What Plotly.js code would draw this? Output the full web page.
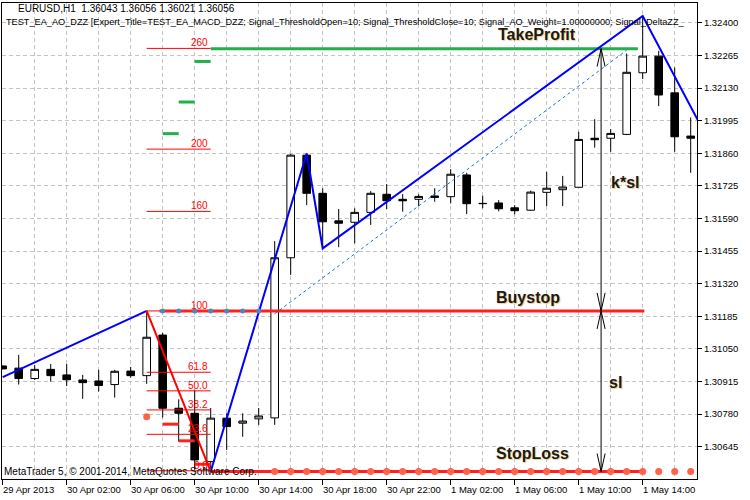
<!DOCTYPE html>
<html><head><meta charset="utf-8">
<script src="https://cdn.plot.ly/plotly-3.0.1.min.js"></script>
<style>html,body{margin:0;padding:0;background:#fff}#chart{width:750px;height:500px}</style>
</head><body><div id="chart"></div>
<script>
// ---- data (EURUSD H1, bar index 0 = 29 Apr 2013 22:00) ----
const barIdx = [0,1,2,3,4,5,6,7,8,9,10,11,12,13,14,15,16,17,18,19,20,21,22,23,24,25,26,27,28,29,30,31,32,33,34,35,36,37,38,39,40,41,42,43];
const openP  = [1.30979,1.30970,1.30927,1.30965,1.30942,1.30921,1.30917,1.30902,1.30958,1.30939,1.31107,1.30804,1.30783,1.30583,1.30763,1.30742,1.30760,1.30764,1.31427,1.31852,1.31694,1.31580,1.31574,1.31615,1.31690,1.31669,1.31669,1.31683,1.31680,1.31770,1.31651,1.31654,1.31634,1.31624,1.31698,1.31709,1.31719,1.31922,1.31922,1.31938,1.32193,1.32262,1.32110,1.31931];
const highP  = [1.30981,1.31025,1.30983,1.30987,1.30987,1.30942,1.30963,1.30963,1.30975,1.31207,1.31116,1.30841,1.30880,1.30805,1.30783,1.30783,1.30805,1.31496,1.31857,1.31859,1.31715,1.31629,1.31632,1.31703,1.31732,1.31691,1.31690,1.31715,1.31794,1.31779,1.31684,1.31666,1.31645,1.31705,1.31783,1.31766,1.31949,1.32001,1.31960,1.32273,1.32428,1.32284,1.32215,1.32008];
const lowP   = [1.30965,1.30902,1.30921,1.30914,1.30896,1.30843,1.30873,1.30848,1.30931,1.30905,1.30765,1.30666,1.30549,1.30542,1.30631,1.30686,1.30735,1.30735,1.31356,1.31645,1.31466,1.31471,1.31487,1.31563,1.31629,1.31618,1.31641,1.31659,1.31652,1.31608,1.31632,1.31619,1.31607,1.31621,1.31641,1.31641,1.31718,1.31883,1.31866,1.31935,1.32167,1.32055,1.31866,1.31779];
const closeP = [1.30967,1.30927,1.30965,1.30939,1.30922,1.30910,1.30898,1.30957,1.30939,1.31098,1.30804,1.30783,1.30590,1.30763,1.30728,1.30751,1.30772,1.31427,1.31852,1.31694,1.31576,1.31570,1.31615,1.31694,1.31663,1.31663,1.31681,1.31677,1.31773,1.31651,1.31652,1.31630,1.31622,1.31699,1.31715,1.31720,1.31917,1.31916,1.31942,1.32195,1.32262,1.32101,1.31928,1.31922];

const xTickIdx  = [0,4,8,12,16,20,24,28,32,36,40];
const xTickText = ['29 Apr 2013','30 Apr 02:00','30 Apr 06:00','30 Apr 10:00','30 Apr 14:00','30 Apr 18:00','30 Apr 22:00','1 May 02:00','1 May 06:00','1 May 10:00','1 May 14:00'];
const yTickVals = [1.30645,1.30780,1.30915,1.31050,1.31185,1.31320,1.31455,1.31590,1.31725,1.31860,1.31995,1.32130,1.32265,1.32400];

// ZigZag
const zzBlue1X = [0, 9],              zzBlue1Y = [1.30933, 1.31207];
const zzRedX   = [9, 13],             zzRedY   = [1.31207, 1.30542];
const zzBlue2X = [13, 19, 20, 40, 44], zzBlue2Y = [1.30542, 1.31859, 1.31466, 1.32428, 1.31927];
// dotted trade line
const tradeX = [17, 39], tradeY = [1.31195, 1.32287];

// Fibonacci levels
const fibNames  = ['260','200','160','100','61.8','50.0','38.2','23.6','0.0'];
const fibPrices = [1.32294,1.31877,1.31619,1.31207,1.30953,1.30876,1.30797,1.30696,1.30545];
const fibFrom = 9, fibTo = 13;

// order levels
const tpX = [13, 39.7],  tpY = 1.32293;
const bsX = [9.8, 40.1], bsY = 1.31207;
const slX = [13, 40],    slY = 1.30542;
const tpStepFrom = [10,11,12], tpStepTo = [11,12,13], tpStepY = [1.31941,1.32072,1.32240];
const slStepFrom = [10,11,12], slStepTo = [11,12,13], slStepY = [1.30738,1.30669,1.30572];
const bsDotIdx = [10,11,12,13,14,15,16];
const slDotIdx = [9,17,18,19,20,21,22,23,24,25,26,27,28,29,30,31,32,33,34,35,36,37,38,39,40,41,42,43];
const slDotY   = [1.30769,1.30542,1.30542,1.30542,1.30542,1.30542,1.30542,1.30542,1.30542,1.30542,1.30542,1.30542,1.30542,1.30542,1.30542,1.30542,1.30542,1.30542,1.30542,1.30542,1.30542,1.30542,1.30542,1.30542,1.30542,1.30542,1.30542,1.30542];

const arrowIdx = 37.4;
const labelText = ['TakeProfit','Buystop','k*sl','sl','StopLoss'];
const labelX    = [33.4, 32.8, 38.9, 38.3, 33.1];
const labelY    = [1.32353, 1.31261, 1.31737, 1.30909, 1.30615];

const headerLine1 = 'EURUSD,H1&nbsp; 1.36043 1.36056 1.36021 1.36056';
const headerLine2 = 'TEST_EA_AO_DZZ [Expert_Title=TEST_EA_MACD_DZZ; Signal_ThresholdOpen=10; Signal_ThresholdClose=10; Signal_AO_Weight=1.00000000; Signal_DeltaZZ_';
const footerText = 'MetaTrader 5, © 2001-2014, MetaQuotes Software Corp.';

// ---- build ----
const xRange = [-0.044, 43.394], yRange = [1.30511, 1.32482];
const pxX = (xRange[1]-xRange[0]) / 695, pxY = (yRange[1]-yRange[0]) / 476;

const traces = [];
function seg(xs, ys, color, width, dash){
  traces.push({type:'scatter', mode:'lines', x:xs, y:ys, line:{color:color, width:width, dash:dash||'solid'}, hoverinfo:'skip', showlegend:false, cliponaxis:true});
}
let fx=[], fy=[];
fibPrices.forEach(p=>{fx.push(fibFrom,fibTo,null); fy.push(p,p,null);});
seg(fx, fy, '#ff0000', 1);

traces.push({type:'candlestick', x:barIdx, open:openP, high:highP, low:lowP, close:closeP,
  increasing:{line:{color:'#000000', width:1}, fillcolor:'#ffffff'},
  decreasing:{line:{color:'#000000', width:1}, fillcolor:'#000000'},
  whiskerwidth:0, hoverinfo:'skip', showlegend:false});

let gx=[], gy=[];
tpStepY.forEach((p,k)=>{gx.push(tpStepFrom[k], tpStepTo[k], null); gy.push(p,p,null);});
seg(gx, gy, '#22b04b', 3);
let rx=[], ry=[];
slStepY.forEach((p,k)=>{rx.push(slStepFrom[k], slStepTo[k], null); ry.push(p,p,null);});
seg(rx, ry, '#ff2020', 3);

seg(tpX, [tpY,tpY], '#22b04b', 3);
seg(bsX, [bsY,bsY], '#ff2020', 3);
seg(slX, [slY,slY], '#ff2020', 3);

seg(tradeX, tradeY, '#1f6fd0', 1, 'dot');
seg(zzBlue1X, zzBlue1Y, '#0000ff', 2);
seg(zzBlue2X, zzBlue2Y, '#0000ff', 2);
seg(zzRedX, zzRedY, '#ff0000', 2);

traces.push({type:'scatter', mode:'markers', x:bsDotIdx, y:bsDotIdx.map(()=>bsY), marker:{color:'#4a86c8', size:5}, hoverinfo:'skip', showlegend:false});
traces.push({type:'scatter', mode:'markers', x:slDotIdx, y:slDotY, marker:{color:'#ff6448', size:7}, hoverinfo:'skip', showlegend:false});

// vertical measuring arrows (k*sl and sl), open V heads
const ax=[], ay=[];
function vArrow(yTop, yBot){
  ax.push(arrowIdx, arrowIdx, null); ay.push(yTop, yBot, null);
  const hw = 4*pxX, hl = 18*pxY;
  ax.push(arrowIdx-hw, arrowIdx, arrowIdx+hw, null); ay.push(yTop-hl, yTop, yTop-hl, null);
  ax.push(arrowIdx-hw, arrowIdx, arrowIdx+hw, null); ay.push(yBot+hl, yBot, yBot+hl, null);
}
vArrow(tpY, bsY); vArrow(bsY, slY);
seg(ax, ay, '#000000', 1);

const ann = [];
const F = 'Liberation Sans, Arial, sans-serif';
fibNames.forEach((t,k)=>{
  ann.push({x:fibTo, y:fibPrices[k], xref:'x', yref:'y', text:t, showarrow:false, xanchor:'right', yanchor:'bottom', yshift:-2, xshift:-1, font:{family:F, size:10, color:'#ff0000'}});
});
xTickIdx.forEach((v,k)=>{
  ann.push({x:v, y:0, xref:'x', yref:'paper', text:xTickText[k], showarrow:false, xanchor:'left', yanchor:'top', yshift:-3, xshift:-2, font:{family:F, size:9.5, color:'#000'}});
});
labelText.forEach((t,k)=>{
  ann.push({x:labelX[k], y:labelY[k], xref:'x', yref:'y', text:'<b>'+t+'</b>', showarrow:false, xanchor:'center', yanchor:'middle', font:{family:F, size:16, color:'#1a1a1a', shadow:'1px 1px 1px rgba(230,160,40,0.55)'}});
});
ann.push({x:0, y:1, xref:'paper', yref:'paper', xanchor:'left', yanchor:'middle', xshift:14, yshift:-5.5, showarrow:false, text:headerLine1, font:{family:F, size:10, color:'#000'}});
ann.push({x:0, y:1, xref:'paper', yref:'paper', xanchor:'left', yanchor:'middle', xshift:2, yshift:-18.5, showarrow:false, text:headerLine2, font:{family:F, size:9.2, color:'#000'}});
ann.push({x:0, y:0, xref:'paper', yref:'paper', xanchor:'left', yanchor:'middle', xshift:0, yshift:7.5, showarrow:false, text:footerText, font:{family:F, size:10, color:'#000'}});

const grid = '#c4c4c4';
const layout = {
  width:750, height:500, margin:{l:2, r:53, t:3, b:21},
  paper_bgcolor:'#fff', plot_bgcolor:'#fff', showlegend:false,
  boxgap:0.32,
  xaxis:{range:xRange, showline:true, linecolor:'#000', linewidth:1, mirror:true,
    tickmode:'linear', tick0:0, dtick:4, ticks:'outside', ticklen:5, tickcolor:'#000', showticklabels:false,
    showgrid:true, gridcolor:grid, griddash:'4px,3px', zeroline:false,
    minor:{tickmode:'linear', tick0:0, dtick:2, showgrid:true, gridcolor:grid, griddash:'4px,3px', ticks:''},
    rangeslider:{visible:false}, fixedrange:true},
  yaxis:{side:'right', range:yRange, tickmode:'array', tickvals:yTickVals, tickformat:'.5f',
    ticks:'outside', ticklen:4, tickcolor:'#000', showline:true, linecolor:'#000', linewidth:1, mirror:true,
    showgrid:true, gridcolor:grid, griddash:'4px,3px', zeroline:false,
    tickfont:{family:F, size:9.5, color:'#000'}, fixedrange:true},
  annotations: ann
};
Plotly.newPlot('chart', traces, layout, {staticPlot:true, displayModeBar:false});
</script></body></html>
